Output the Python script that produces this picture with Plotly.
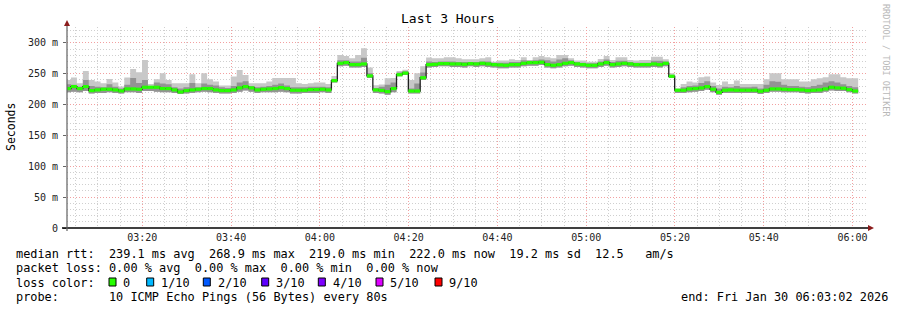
import plotly.graph_objects as go
import pandas as pd

# ---------------- data ----------------
median_ms = [
    226.0, 229.2, 226.0, 229.2, 222.7, 223.8, 224.9, 224.9, 223.8, 222.2,
    225.4, 225.4, 224.9, 228.1, 228.1, 228.1, 226.0, 226.0, 223.8, 220.5,
    222.7, 223.8, 224.9, 226.0, 226.0, 223.8, 222.7, 222.7, 223.8, 227.0,
    229.2, 227.0, 223.8, 224.9, 225.4, 226.0, 227.6, 226.0, 223.3, 223.3,
    223.3, 224.3, 224.3, 224.9, 223.8, 238.9, 266.9, 268.0, 264.8, 264.8,
    265.9, 246.5, 223.8, 223.0, 221.0, 226.0, 248.5, 251.0, 222.0, 222.0,
    243.5, 264.8, 265.3, 266.4, 266.4, 265.9, 265.9, 265.3, 266.4, 265.9,
    266.9, 265.9, 264.8, 264.3, 263.7, 264.8, 264.8, 266.9, 268.0, 268.0,
    268.6, 264.8, 263.7, 264.8, 266.9, 268.0, 265.9, 264.8, 263.7, 263.7,
    265.9, 268.0, 264.8, 265.9, 266.9, 265.9, 264.8, 264.8, 264.8, 265.9,
    264.8, 266.9, 245.9, 223.3, 223.3, 225.4, 226.0, 227.0, 229.2, 224.9,
    220.0, 223.3, 223.8, 223.3, 223.3, 223.3, 223.3, 221.6, 223.3, 225.4,
    225.4, 224.9, 224.3, 224.3, 223.8, 222.7, 223.3, 223.8, 225.4, 228.1,
    227.0, 226.5, 224.3, 222.0,
]
smoke_max_ms = [
    240.0, 243.8, 234.6, 254.5, 240.0, 237.3, 234.6, 241.6, 235.7, 229.2,
    243.8, 257.8, 252.4, 272.3, 233.5, 241.1, 250.8, 240.0, 234.6, 234.6,
    234.6, 249.1, 234.6, 250.8, 241.1, 237.3, 230.8, 230.8, 245.4, 256.2,
    248.1, 234.6, 234.6, 234.6, 237.3, 243.0, 243.0, 243.0, 243.0, 234.6,
    233.5, 234.6, 235.7, 235.7, 233.5, 246.5, 280.4, 278.8, 275.0, 280.4,
    291.2, 260.0, 231.5, 232.5, 242.7, 243.0, 254.5, 256.5, 240.0, 251.0,
    262.0, 276.5, 275.0, 275.0, 276.7, 276.7, 275.0, 273.4, 273.4, 273.4,
    275.0, 276.7, 269.6, 271.3, 271.3, 273.4, 272.3, 276.7, 272.3, 276.7,
    278.8, 276.7, 275.0, 280.4, 280.4, 275.0, 271.3, 271.3, 269.5, 269.5,
    274.0, 278.8, 272.3, 276.7, 276.7, 272.3, 271.3, 272.3, 272.3, 277.7,
    277.7, 273.4, 250.8, 226.0, 233.5, 237.3, 235.7, 244.3, 245.4, 235.7,
    231.9, 237.3, 233.5, 238.9, 233.5, 233.5, 233.5, 233.5, 241.1, 250.8,
    250.8, 241.1, 241.1, 241.1, 237.3, 237.3, 241.1, 242.7, 244.3, 249.1,
    249.1, 244.3, 242.7, 242.7,
]
smoke_mid_ms = [
    233, 232, 229, 240, 230, 229, 228, 233, 229, 226,
    232, 243, 235, 240, 230, 236, 234, 233, 228, 226,
    228, 235, 228, 234, 232, 231, 228, 227, 230, 236,
    238, 230, 228, 229, 230, 232, 234, 231, 228, 228,
    228, 229, 229, 229, 228, 241, 272, 272, 270, 270,
    276, 251, 227, 229, 232, 236, 252, 254, 226, 234,
    252, 270, 269, 270, 270, 270, 269, 269, 269, 269,
    270, 270, 268, 268, 268, 269, 269, 272, 271, 272,
    273, 272, 270, 273, 275, 272, 269, 268, 267, 267,
    270, 273, 269, 271, 271, 269, 268, 268, 268, 271,
    271, 270, 248, 225, 228, 230, 231, 235, 238, 230,
    226, 229, 228, 230, 228, 228, 229, 226, 232, 238,
    237, 232, 230, 230, 229, 228, 230, 232, 236, 238,
    236, 233, 230, 228,
]
smoke_min_ms = [
    220, 221, 220, 222, 218, 219, 219, 220, 219, 218,
    220, 220, 219, 222, 222, 221, 220, 220, 219, 217,
    218, 219, 220, 221, 220, 219, 218, 218, 219, 221,
    223, 221, 219, 220, 220, 220, 221, 220, 218, 218,
    219, 219, 219, 220, 219, 236, 262, 263, 260, 260,
    261, 243, 219, 218, 216, 220, 246, 248, 218, 218,
    240, 260, 261, 262, 262, 261, 261, 260, 262, 261,
    262, 261, 260, 259, 259, 260, 260, 262, 263, 263,
    264, 260, 259, 260, 262, 263, 261, 260, 259, 259,
    261, 263, 260, 261, 262, 261, 260, 260, 260, 261,
    260, 262, 243, 219, 219, 220, 221, 222, 224, 220,
    216, 219, 219, 219, 219, 219, 219, 217, 219, 221,
    221, 220, 220, 220, 219, 218, 219, 219, 221, 223,
    222, 222, 220, 218,
]
y_tick_vals = [0, 50, 100, 150, 200, 250, 300]
y_tick_text = ["0", "50 m", "100 m", "150 m", "200 m", "250 m", "300 m"]
loss_labels = ["0", "1/10", "2/10", "3/10", "4/10", "5/10", "9/10"]
loss_colors = ["#26ff00", "#00b8ff", "#0059ff", "#5e00ff", "#7e00ff", "#dd00ff", "#ff0000"]

legend_rtt = "median rtt:  239.1 ms avg  268.9 ms max  219.0 ms min  222.0 ms now  19.2 ms sd  12.5   am/s"
legend_loss = "packet loss: 0.00 % avg  0.00 % max  0.00 % min  0.00 % now"
legend_probe = "probe:       10 ICMP Echo Pings (56 Bytes) every 80s"
legend_end = "end: Fri Jan 30 06:03:02 2026"

step_start = "2026-01-30 03:02:36"
range_start = "2026-01-30 03:03:02"
range_end = "2026-01-30 06:03:02"

# ---------------- layout geometry (pixels) ----------------
W, H = 897, 310
L, R, T, B = 67, 866, 27, 228
PW, PH = R - L, B - T
MONO = "DejaVu Sans Mono"
DOTS = "1px,2px"


def px(x):
    return (x - L) / PW


def py(y):
    return (B - y) / PH


times = pd.date_range(step_start, periods=len(median_ms) + 1, freq="80s")

fig = go.Figure()


def band(lo, hi, color):
    fig.add_trace(go.Scatter(x=times, y=lo + [lo[-1]], mode="lines",
                             line=dict(width=0, shape="hv"), hoverinfo="skip",
                             showlegend=False))
    fig.add_trace(go.Scatter(x=times, y=hi + [hi[-1]], mode="lines",
                             line=dict(width=0, shape="hv"), fill="tonexty",
                             fillcolor=color, hoverinfo="skip", showlegend=False))


band(smoke_min_ms, smoke_max_ms, "#c8c8c8")
band(smoke_min_ms, smoke_mid_ms, "#939393")

# thin dark median line (shows at the steps)
fig.add_trace(go.Scatter(x=times, y=median_ms + [median_ms[-1]], mode="lines",
                         line=dict(width=1.3, shape="hv", color="#202020"),
                         hoverinfo="skip", showlegend=False))

# green loss-colour band on each median step
gx, gy = [], []
for i, m in enumerate(median_ms):
    gx += [times[i], times[i + 1], None]
    gy += [m, m, None]
fig.add_trace(go.Scatter(x=gx, y=gy, mode="lines",
                         line=dict(width=3.2, color="#26ff00"),
                         hoverinfo="skip", showlegend=False))

fig.update_layout(
    width=W, height=H,
    margin=dict(l=L, r=W - R, t=T, b=H - B, pad=0),
    paper_bgcolor="white", plot_bgcolor="white",
    font=dict(family=MONO, size=10, color="#222222"),
    showlegend=False,
)

fig.update_xaxes(
    type="date", range=[range_start, range_end],
    tickformat="%H:%M", dtick=1200000, tick0="2026-01-30 00:00:00",
    showgrid=True, gridcolor="#f2a0a0", griddash=DOTS, gridwidth=1,
    minor=dict(dtick=300000, tick0="2026-01-30 00:00:00", showgrid=True,
               gridcolor="#cfcfcf", griddash=DOTS, gridwidth=1),
    showline=False, zeroline=False, ticks="",
    tickfont=dict(family=MONO, size=10, color="#222222"),
    ticklabelstandoff=2,
)
fig.update_yaxes(
    range=[0, PH * 300 / 185.1],
    tickvals=y_tick_vals, ticktext=y_tick_text,
    showgrid=True, gridcolor="#f2a0a0", griddash=DOTS, gridwidth=1,
    minor=dict(dtick=10, showgrid=True, gridcolor="#cfcfcf", griddash=DOTS,
               gridwidth=1),
    showline=False, zeroline=False, ticks="outside", ticklen=3,
    tickcolor="#666666",
    tickfont=dict(family=MONO, size=10, color="#222222"),
    ticklabelstandoff=3,
)

shapes = []
# axis lines
shapes.append(dict(type="line", xref="paper", yref="paper", x0=px(62), x1=px(869),
                   y0=0, y1=0, line=dict(color="#000000", width=1.5)))
shapes.append(dict(type="line", xref="paper", yref="paper", x0=0, x1=0,
                   y0=py(231), y1=py(24), line=dict(color="#606060", width=1.2)))
# arrows
shapes.append(dict(type="path", xref="paper", yref="paper",
                   path=f"M {px(64)},{py(26)} L {px(70)},{py(26)} L {px(67)},{py(20)} Z",
                   fillcolor="#8b1c1c", line=dict(width=0)))
shapes.append(dict(type="path", xref="paper", yref="paper",
                   path=f"M {px(868)},{py(225)} L {px(868)},{py(231)} L {px(874)},{py(228)} Z",
                   fillcolor="#8b1c1c", line=dict(width=0)))

# loss colour boxes
box_x = [109, 146.7, 203.3, 261.7, 318.3, 376, 435]
lab_x = [123.3, 161, 218.3, 276, 332.7, 390, 449.3]
for bx, col in zip(box_x, loss_colors):
    shapes.append(dict(type="rect", xref="paper", yref="paper",
                       x0=px(bx), x1=px(bx + 7), y0=py(286), y1=py(278),
                       fillcolor=col, line=dict(color="#000000", width=1)))

ann = []


def text(x, y, s, size=11.88, color="#000000", anchor="left", angle=0):
    ann.append(dict(xref="paper", yref="paper", x=px(x), y=py(y), text=s,
                    showarrow=False, xanchor=anchor, yanchor="middle",
                    textangle=angle, borderpad=0,
                    font=dict(family=MONO, size=size, color=color)))


text(448, 19, "Last 3 Hours", size=13, anchor="center")
text(11, 127, "Seconds", size=11.5, anchor="center", angle=-90)
text(886, 60, "RRDTOOL / TOBI OETIKER", size=8.5, color="#b8b8b8",
     anchor="center", angle=90)

LX = 14.6
text(LX, 254, legend_rtt)
text(LX, 268.3, legend_loss)
text(LX, 282.7, "loss color:")
for lx, lab in zip(lab_x, loss_labels):
    text(lx - 1, 282.7, lab)
text(LX, 296.7, legend_probe)
text(889, 296.7, legend_end, anchor="right")

fig.update_layout(shapes=shapes, annotations=ann)
fig.write_html("out.html")
